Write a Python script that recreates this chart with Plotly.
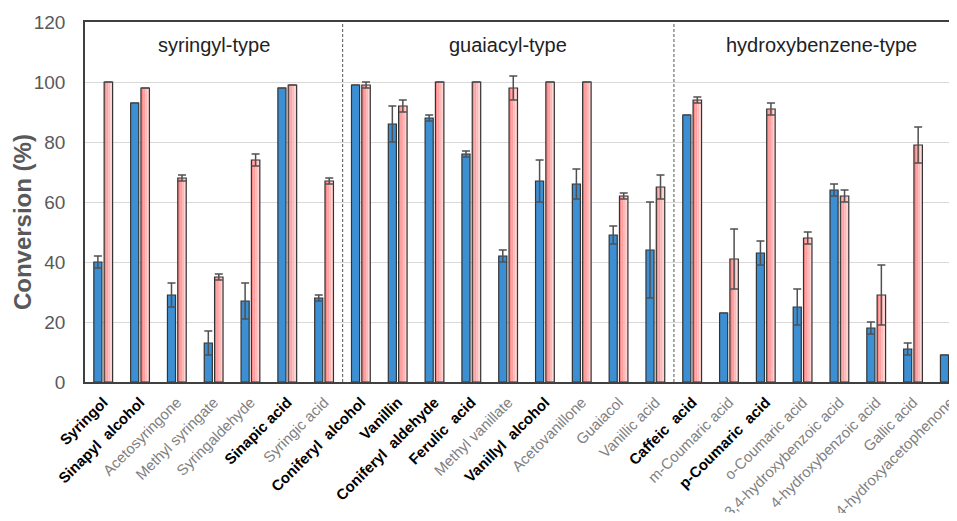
import plotly.graph_objects as go

categories = ["Syringol", "Sinapyl\u00a0 alcohol", "Acetosyringone", "Methyl syringate", "Syringaldehyde",
              "Sinapic acid", "Syringic acid", "Coniferyl\u00a0 alcohol", "Vanillin", "Coniferyl\u00a0 aldehyde",
              "Ferulic\u00a0 acid", "Methyl vanillate", "Vanillyl\u00a0 alcohol", "Acetovanillone", "Guaiacol",
              "Vanillic acid", "Caffeic\u00a0 acid", "m-Coumaric acid", "p-Coumaric\u00a0 acid", "o-Coumaric acid",
              "3,4-hydroxybenzoic acid", "4-hydroxybenzoic acid", "Gallic acid", "4-hydroxyacetophenone"]
bold_flags = [1, 1, 0, 0, 0, 1, 0, 1, 1, 1, 1, 0, 1, 0, 0, 0, 1, 0, 1, 0, 0, 0, 0, 0]

blue_values = [40, 93, 29, 13, 27, 98, 28, 99, 86, 88, 76, 42, 67, 66, 49, 44, 89, 23, 43, 25, 64, 18, 11, 9]
blue_errors = [2, 0, 4, 4, 6, 0, 1, 0, 6, 1, 1, 2, 7, 5, 3, 16, 0, 0, 4, 6, 2, 2, 2, 0]
red_values = [100, 98, 68, 35, 74, 99, 67, 99, 92, 100, 100, 98, 100, 100, 62, 65, 94, 41, 91, 48, 62, 29, 79, 23]
red_errors = [0, 0, 1, 1, 2, 0, 1, 1, 2, 0, 0, 4, 0, 0, 1, 4, 1, 10, 2, 2, 2, 10, 6, 7]

group_labels = ["syringyl-type", "guaiacyl-type", "hydroxybenzene-type"]
group_centers = [3, 11, 19.5]
separators = [6.5, 15.5]

x = list(range(len(categories)))
ticktext = []
for name, b in zip(categories, bold_flags):
    if b:
        ticktext.append("<b>" + name + "</b>")
    else:
        ticktext.append("<span style='color:#7f7f7f'>" + name + "</span>")

fig = go.Figure()
OUT = "#333333"
ERR = "#505050"

fig.add_trace(go.Bar(x=x, y=blue_values, width=0.22, offset=-0.26,
                     marker=dict(color="#3d8fd4", line=dict(color=OUT, width=1.2)),
                     error_y=dict(type="data", array=blue_errors, color=ERR, thickness=1.5, width=4),
                     showlegend=False))

# red bars with horizontal gradient made of slices
red_shades = ["#ff8a8a", "#ffa0a0", "#ffb8b8", "#ffd2d2"]
n = len(red_shades)
rw = 0.23
for i, c in enumerate(red_shades):
    fig.add_trace(go.Bar(x=x, y=red_values, width=rw / n + 0.002, offset=0.02 + i * rw / n,
                         marker=dict(color=c, line=dict(width=0)), showlegend=False, hoverinfo="skip"))
fig.add_trace(go.Bar(x=x, y=red_values, width=rw, offset=0.02,
                     marker=dict(color="rgba(0,0,0,0)", line=dict(color=OUT, width=1.2)),
                     error_y=dict(type="data", array=red_errors, color=ERR, thickness=1.5, width=4),
                     showlegend=False))

for s in separators:
    fig.add_shape(type="line", x0=s, x1=s, y0=0, y1=120, xref="x", yref="y",
                  line=dict(color="#555555", width=1, dash="3px,2px"))

for lab, cx in zip(group_labels, group_centers):
    fig.add_annotation(x=cx, y=112.3, xref="x", yref="y", text=lab, showarrow=False,
                       font=dict(size=20, color="#222222", family="Liberation Sans, Arial"))

fig.add_annotation(x=-0.0723, y=0.444, xref="paper", yref="paper", text="<b>Conversion (%)</b>",
                   textangle=-90, showarrow=False, xanchor="center", yanchor="middle",
                   font=dict(size=24, color="#595959", family="Liberation Sans, Arial"))

fig.update_layout(
    width=949, height=505,
    margin=dict(l=77, r=0, t=14, b=131, autoexpand=False),
    barmode="overlay",
    plot_bgcolor="white", paper_bgcolor="white",
    font=dict(family="Liberation Sans, Arial"),
    xaxis=dict(range=[-0.5, 23.19], tickvals=x, ticktext=ticktext, tickangle=-45,
               tickfont=dict(size=15, color="#000000"), showline=True, linecolor="#404040",
               linewidth=1.5, mirror=True, showgrid=False, ticks="outside", ticklen=4,
               tickcolor="rgba(0,0,0,0)", zeroline=False, automargin=False,
               ticklabeloverflow="allow"),
    yaxis=dict(range=[0, 120], dtick=20, tickfont=dict(size=19, color="#595959"),
               showline=True, linecolor="#404040", linewidth=1.5, showgrid=True,
               gridcolor="#d9d9d9", gridwidth=1, zeroline=False, ticks="outside",
               ticklen=14, tickcolor="rgba(0,0,0,0)", automargin=False),
)

fig.write_html("out.html")
